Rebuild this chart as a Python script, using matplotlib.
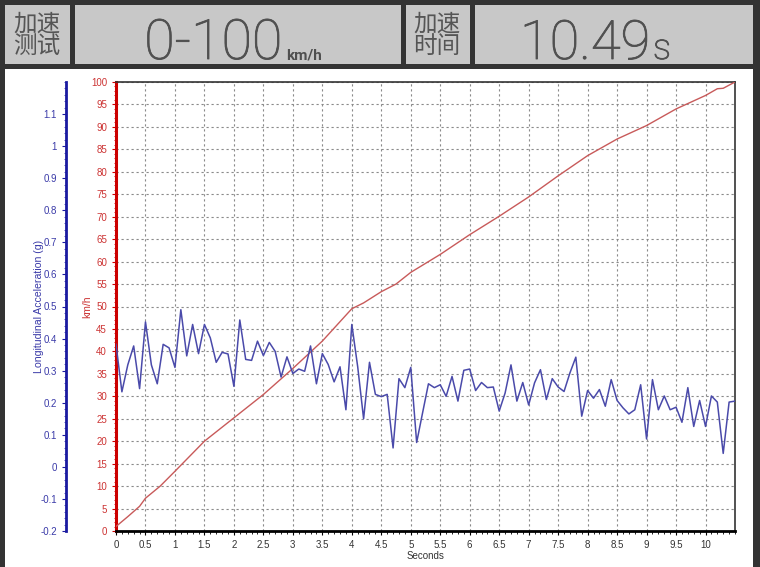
import matplotlib
matplotlib.use("Agg")
import matplotlib.pyplot as plt
import matplotlib.patheffects as pe
from matplotlib.patches import Rectangle
from matplotlib.ticker import MultipleLocator, FormatStrFormatter

plt.rcParams["font.family"] = ["Liberation Sans", "DejaVu Sans"]

# speed trace (km/h)
speed_t = [0, 0.2, 0.4, 0.5, 0.75, 1.0, 1.5, 2.0, 2.5, 3.0, 3.5, 4.0, 4.2, 4.5,
           4.75, 5.0, 5.5, 6.0, 6.5, 7.0, 7.5, 8.0, 8.5, 9.0, 9.5, 10.0, 10.2,
           10.3, 10.5]
speed_kmh = [1.0, 3.2, 5.5, 7.3, 10.0, 13.3, 20.0, 25.2, 30.4, 36.2, 42.3, 49.5,
             50.8, 53.3, 55.0, 57.6, 61.6, 66.0, 70.1, 74.4, 79.1, 83.6, 87.3,
             90.3, 94.0, 97.0, 98.5, 98.6, 100.0]

# longitudinal acceleration (g), one sample per 0.1 s
accel_t = [0.0, 0.1, 0.2, 0.3, 0.4, 0.5, 0.6, 0.7, 0.8, 0.9,
           1.0, 1.1, 1.2, 1.3, 1.4, 1.5, 1.6, 1.7, 1.8, 1.9,
           2.0, 2.1, 2.2, 2.3, 2.4, 2.5, 2.6, 2.7, 2.8, 2.9,
           3.0, 3.1, 3.2, 3.3, 3.4, 3.5, 3.6, 3.7, 3.8, 3.9,
           4.0, 4.1, 4.2, 4.3, 4.4, 4.5, 4.6, 4.7, 4.8, 4.9,
           5.0, 5.1, 5.2, 5.3, 5.4, 5.5, 5.6, 5.7, 5.8, 5.9,
           6.0, 6.1, 6.2, 6.3, 6.4, 6.5, 6.6, 6.7, 6.8, 6.9,
           7.0, 7.1, 7.2, 7.3, 7.4, 7.5, 7.6, 7.7, 7.8, 7.9,
           8.0, 8.1, 8.2, 8.3, 8.4, 8.5, 8.6, 8.7, 8.8, 8.9,
           9.0, 9.1, 9.2, 9.3, 9.4, 9.5, 9.6, 9.7, 9.8, 9.9,
           10.0, 10.1, 10.2, 10.3, 10.4, 10.5]
accel_g = [0.382, 0.234, 0.318, 0.377, 0.244, 0.452, 0.318, 0.259, 0.382, 0.371,
           0.310, 0.490, 0.346, 0.444, 0.353, 0.444, 0.402, 0.326, 0.357, 0.352,
           0.251, 0.458, 0.335, 0.332, 0.392, 0.347, 0.388, 0.360, 0.280, 0.343,
           0.291, 0.305, 0.298, 0.377, 0.259, 0.353, 0.319, 0.265, 0.312, 0.178,
           0.444, 0.312, 0.150, 0.326, 0.226, 0.219, 0.226, 0.059, 0.275, 0.247,
           0.310, 0.076, 0.168, 0.259, 0.247, 0.256, 0.220, 0.282, 0.205, 0.301,
           0.305, 0.238, 0.263, 0.247, 0.249, 0.174, 0.230, 0.318, 0.205, 0.263,
           0.193, 0.262, 0.303, 0.210, 0.275, 0.249, 0.235, 0.293, 0.342, 0.158,
           0.238, 0.214, 0.241, 0.189, 0.272, 0.207, 0.184, 0.165, 0.178, 0.256,
           0.087, 0.272, 0.178, 0.221, 0.178, 0.186, 0.139, 0.247, 0.126, 0.207,
           0.126, 0.221, 0.202, 0.042, 0.202, 0.205]

header_labels = ["加速\n测试", "0-100", "加速\n时间", "10.49"]
header_units = ["km/h", "s"]

W, H = 760, 567
fig = plt.figure(figsize=(W / 100, H / 100), dpi=100, facecolor="white")


def px_rect(x0, y0, x1, y1, color):
    # rectangle given in pixel coords measured from the top-left corner
    fig.patches.append(Rectangle((x0 / W, 1 - y1 / H), (x1 - x0) / W, (y1 - y0) / H,
                                 transform=fig.transFigure, facecolor=color,
                                 edgecolor="none", zorder=0))


# dark frame + header band
px_rect(0, 0, W, 69, "#333333")
px_rect(0, 0, 5, H, "#333333")
px_rect(753, 0, W, H, "#333333")
for x0, x1 in [(5, 70), (75, 401), (406, 470), (475, 753)]:
    px_rect(x0, 5, x1, 64, "#c8c8c8")

cjk = ["Noto Sans CJK SC", "DejaVu Sans"]
thin = ["Roboto", "Open Sans", "DejaVu Sans"]
txt = "#505050"
# thin font thickened a little with a stroke to get a "light" look
fatten = [pe.withStroke(linewidth=0.6, foreground=txt)]
fig.text(37 / W, 1 - 35 / H, header_labels[0], family=cjk, fontsize=17, color="#555555",
         ha="center", va="center", linespacing=0.95)
fig.text(437 / W, 1 - 35 / H, header_labels[2], family=cjk, fontsize=17, color="#555555",
         ha="center", va="center", linespacing=0.95)
fig.text(282 / W, 1 - 59 / H, header_labels[1], family=thin, fontsize=40, color=txt,
         ha="right", va="baseline", fontweight="light", path_effects=fatten)
fig.text(286 / W, 1 - 59 / H, header_units[0], family=thin, fontsize=11, color=txt,
         ha="left", va="baseline", fontweight="bold")
fig.text(650 / W, 1 - 59 / H, header_labels[3], family=thin, fontsize=39, color=txt,
         ha="right", va="baseline", fontweight="light", path_effects=fatten)
fig.text(653 / W, 1 - 59 / H, header_units[1], family=thin, fontsize=26, color=txt,
         ha="left", va="baseline", fontweight="light", path_effects=fatten)

# main axes (km/h, red)
ax = fig.add_axes([116 / W, 1 - 531 / H, (735 - 116) / W, (531 - 82) / H])
ax.set_xlim(0, 10.5)
ax.set_ylim(0, 100)
ax.set_xticks([v / 2 for v in range(21)])
ax.xaxis.set_minor_locator(MultipleLocator(0.1))
ax.xaxis.set_major_formatter(FormatStrFormatter("%g"))
ax.yaxis.set_major_locator(MultipleLocator(5))
ax.yaxis.set_minor_locator(MultipleLocator(1))
ax.grid(True, color="#8a8a8a", linestyle=(0, (2, 2.5)), linewidth=0.8)
ax.set_axisbelow(True)

ax.spines["left"].set_color("#cc0000")
ax.spines["left"].set_linewidth(2.2)
ax.spines["bottom"].set_color("black")
ax.spines["bottom"].set_linewidth(2.0)
for s in ["top", "right"]:
    ax.spines[s].set_color("#333333")
    ax.spines[s].set_linewidth(1.2)
ax.tick_params(axis="y", colors="#cc0000", labelcolor="#cc3333", labelsize=7,
               length=3, width=0.8)
ax.tick_params(axis="y", which="minor", colors="#cc0000", length=1.5, width=0.6)
ax.tick_params(axis="x", colors="black", labelcolor="#333333", labelsize=7,
               length=3, width=0.8)
ax.tick_params(axis="x", which="minor", length=2, width=0.6)
ax.set_xlabel("Seconds", fontsize=7, color="#333333", labelpad=1)
ax.set_ylabel("km/h", fontsize=7.5, color="#cc3333", labelpad=-1)

ax.plot(speed_t, speed_kmh, color="#c85a5a", linewidth=1.0, zorder=3)

# acceleration axis (g, blue) on an offset left spine
ax2 = ax.twinx()
ax2.spines["left"].set_position(("axes", -0.081))
ax2.spines["left"].set_visible(True)
ax2.spines["left"].set_color("#1a1aa0")
ax2.spines["left"].set_linewidth(2.0)
for s in ["top", "right", "bottom"]:
    ax2.spines[s].set_visible(False)
ax2.yaxis.set_ticks_position("left")
ax2.yaxis.set_label_position("left")
ax2.set_ylim(-0.2, 1.2)
ax2.set_yticks([i / 10 for i in range(-2, 12)])
ax2.yaxis.set_major_formatter(FormatStrFormatter("%g"))
ax2.yaxis.set_minor_locator(MultipleLocator(0.02))
ax2.tick_params(axis="y", colors="#1a1aa0", labelcolor="#3a3aa8", labelsize=7,
                length=3, width=0.8)
ax2.tick_params(axis="y", which="minor", colors="#1a1aa0", length=1.2, width=0.5)
ax2.set_ylabel("Longitudinal Acceleration (g)", fontsize=7.6, color="#3a3aa8",
               labelpad=-3)
ax2.plot(accel_t, accel_g, color="#4a4aaa", linewidth=1.1, zorder=3)

fig.savefig("out.png", dpi=100, facecolor="white")
